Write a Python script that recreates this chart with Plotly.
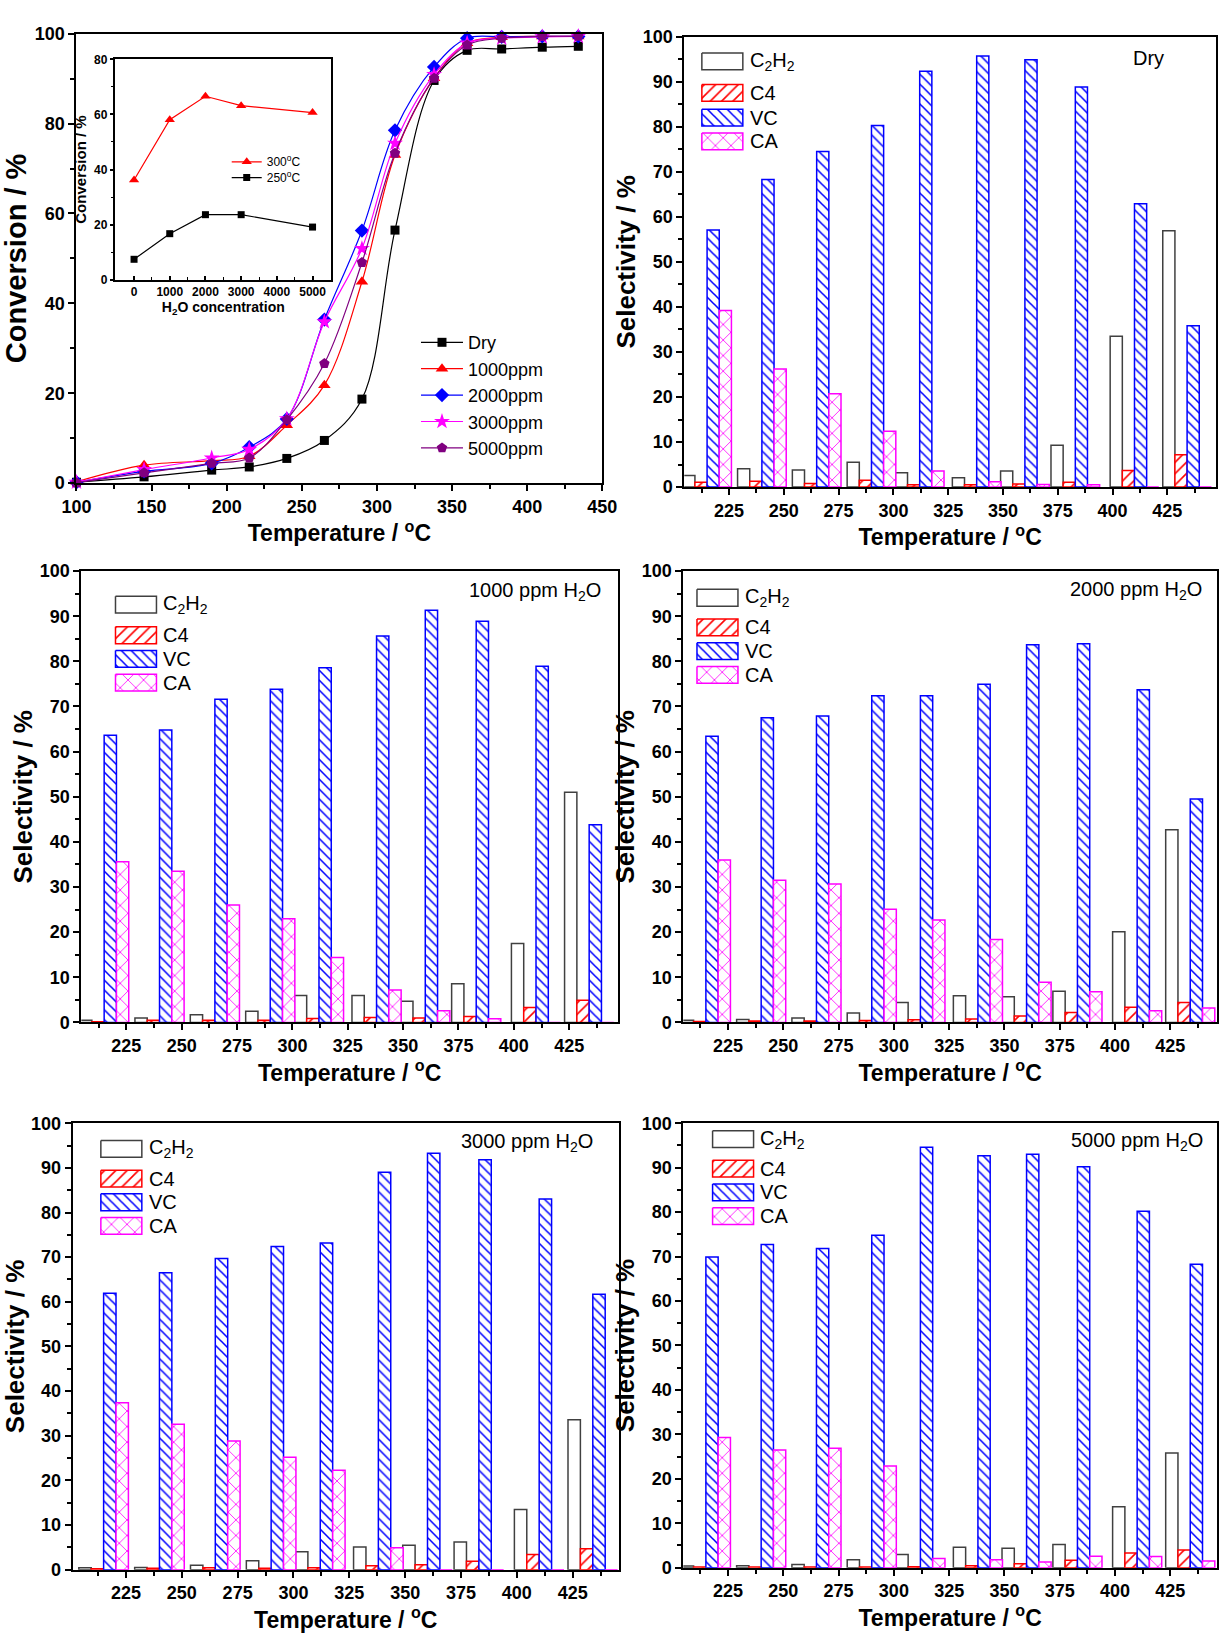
import plotly.graph_objects as go

W, H = 1232, 1636

# ---------------- data ----------------
conv_temps = [100, 145, 190, 215, 240, 265, 290, 312, 338, 360, 383, 410, 434]
conv_dry  = [0.2, 1.4, 2.9, 3.6, 5.5, 9.5, 18.7, 56.3, 89.6, 96.3, 96.6, 97.0, 97.2]
conv_1000 = [0.3, 4.0, 5.0, 6.0, 12.9, 21.8, 44.8, 73.0, 90.1, 97.9, 99.2, 99.4, 99.4]
conv_2000 = [0.2, 2.6, 4.4, 8.0, 14.3, 36.4, 56.2, 78.5, 92.6, 99.0, 99.3, 99.4, 99.4]
conv_3000 = [0.2, 3.0, 5.6, 7.5, 14.3, 35.9, 52.2, 75.6, 90.9, 97.9, 99.0, 99.3, 99.4]
conv_5000 = [0.1, 2.3, 4.4, 5.6, 14.1, 26.6, 49.1, 73.4, 90.1, 97.5, 99.0, 99.4, 99.4]

h2o_ppm   = [0, 1000, 2000, 3000, 5000]
conv_300C = [36.2, 58.1, 66.6, 63.2, 60.7]
conv_250C = [7.4, 16.7, 23.6, 23.6, 19.1]

sel_temps = [215, 240, 265, 290, 312, 338, 360, 383, 410, 434]
product_names = ["C<sub>2</sub>H<sub>2</sub>", "C4", "VC", "CA"]

dry_c2h2 = [2.6, 4.1, 3.8, 5.5, 3.2, 2.1, 3.6, 9.3, 33.5, 56.9]
dry_c4   = [1.1, 1.3, 0.8, 1.5, 0.5, 0.5, 0.7, 1.1, 3.7, 7.2]
dry_vc   = [57.1, 68.3, 74.5, 80.3, 92.3, 95.7, 94.9, 88.8, 62.9, 35.8]
dry_ca   = [39.2, 26.2, 20.7, 12.4, 3.6, 1.2, 0.6, 0.5, 0, 0]

w1000_c2h2 = [0.5, 1.0, 1.7, 2.5, 6.0, 6.0, 4.7, 8.6, 17.5, 51.0]
w1000_c4   = [0.15, 0.5, 0.5, 0.5, 0.9, 1.1, 1.0, 1.3, 3.3, 4.9]
w1000_vc   = [63.6, 64.8, 71.6, 73.8, 78.6, 85.6, 91.3, 88.9, 78.9, 43.8]
w1000_ca   = [35.6, 33.5, 26.0, 23.0, 14.4, 7.2, 2.6, 0.8, 0, 0]

w2000_c2h2 = [0.5, 0.65, 1.0, 2.1, 4.4, 5.9, 5.7, 6.9, 20.1, 42.7]
w2000_c4   = [0.2, 0.3, 0.3, 0.45, 0.6, 0.75, 1.45, 2.2, 3.4, 4.4]
w2000_vc   = [63.4, 67.5, 67.9, 72.4, 72.4, 74.9, 83.7, 83.9, 73.7, 49.5]
w2000_ca   = [36.0, 31.5, 30.7, 25.1, 22.7, 18.4, 8.9, 6.8, 2.6, 3.2]

w3000_c2h2 = [0.45, 0.5, 1.0, 2.0, 4.0, 5.1, 5.5, 6.2, 13.5, 33.6]
w3000_c4   = [0.2, 0.3, 0.45, 0.3, 0.45, 0.9, 1.1, 1.9, 3.4, 4.7]
w3000_vc   = [61.9, 66.5, 69.7, 72.4, 73.2, 89.0, 93.3, 91.8, 83.0, 61.7]
w3000_ca   = [37.4, 32.6, 28.8, 25.2, 22.3, 4.9, 0, 0, 0, 0]

w5000_c2h2 = [0.4, 0.45, 0.7, 1.8, 3.0, 4.6, 4.4, 5.2, 13.7, 25.8]
w5000_c4   = [0.15, 0.15, 0.15, 0.15, 0.2, 0.45, 0.9, 1.7, 3.3, 4.0]
w5000_vc   = [69.9, 72.7, 71.8, 74.8, 94.6, 92.7, 93.0, 90.2, 80.2, 68.3]
w5000_ca   = [29.3, 26.5, 26.9, 22.9, 2.1, 1.8, 1.3, 2.6, 2.5, 1.5]

# ---------------- styles ----------------
FONT = "Liberation Sans, Arial, Helvetica, sans-serif"
BOLD = dict(family=FONT, color="black", weight="bold")

styles = [
    dict(line="#404040", fg="#404040", shape=""),     # C2H2
    dict(line="#ff0000", fg="#ff0000", shape="/"),    # C4
    dict(line="#0000ff", fg="#0000ff", shape="\\"),   # VC
    dict(line="#ff00ff", fg="#ff00ff", shape="x"),    # CA
]
pat_size = {"": 8, "/": 8, "\\": 7, "x": 11}
pat_sol = {"": 0.2, "/": 0.2, "\\": 0.22, "x": 0.14}


def xd(a, b):
    return [a / W, b / W]


def yd(top, bottom):
    return [1 - bottom / H, 1 - top / H]


fig = go.Figure()
layout = dict(
    width=W, height=H, margin=dict(l=0, r=0, t=0, b=0),
    paper_bgcolor="white", plot_bgcolor="white", barmode="overlay",
    annotations=[], font=dict(family=FONT, color="black"),
)


def axis_common(size=18, lw=2):
    return dict(showline=True, linecolor="black", linewidth=lw, mirror=True,
                ticks="outside", ticklen=6, tickwidth=1.5, tickcolor="black",
                showgrid=False, zeroline=False,
                tickfont=dict(size=size, **BOLD))


# ---------------- panel 1: conversion ----------------
series = [
    ("Dry", conv_dry, "black", "square", 9),
    ("1000ppm", conv_1000, "#ff0000", "triangle-up", 11),
    ("2000ppm", conv_2000, "#0000ff", "diamond", 11),
    ("3000ppm", conv_3000, "#ff00ff", "star", 12),
    ("5000ppm", conv_5000, "#800080", "pentagon", 11),
]
for name, vals, col, sym, sz in series:
    fig.add_trace(go.Scatter(
        x=conv_temps, y=vals, name=name, mode="lines+markers",
        line=dict(color=col, width=1.2, shape="spline", smoothing=1.0),
        marker=dict(symbol=sym, size=sz, color=col),
        cliponaxis=False, xaxis="x", yaxis="y", legend="legend"))

layout["xaxis"] = dict(domain=xd(63, 602), range=[100, 450], anchor="y",
                       dtick=50, tick0=100,
                       minor=dict(ticks="outside", ticklen=4, tickwidth=1.5,
                                  tickcolor="black", dtick=25, tick0=100),
                       title=dict(text="Temperature / <sup>o</sup>C",
                                  font=dict(size=23, **BOLD), standoff=0),
                       **axis_common())
layout["yaxis"] = dict(domain=yd(24, 479), range=[0, 100], anchor="x",
                       dtick=20,
                       minor=dict(ticks="outside", ticklen=4, tickwidth=1.5,
                                  tickcolor="black", dtick=10),
                       title=dict(text="Conversion / %",
                                  font=dict(size=29, **BOLD), standoff=0),
                       **axis_common())
layout["legend"] = dict(x=411 / W, y=1 - 318 / H, xanchor="left", yanchor="top",
                        bgcolor="rgba(0,0,0,0)", itemwidth=42,
                        font=dict(family=FONT, size=18, color="black"),
                        tracegroupgap=0)

# inset
fig.add_trace(go.Scatter(
    x=h2o_ppm, y=conv_300C, name="300<sup>o</sup>C", mode="lines+markers",
    line=dict(color="#ff0000", width=1.2), marker=dict(symbol="triangle-up", size=9, color="#ff0000"),
    cliponaxis=False, xaxis="x7", yaxis="y7", legend="legend2"))
fig.add_trace(go.Scatter(
    x=h2o_ppm, y=conv_250C, name="250<sup>o</sup>C", mode="lines+markers",
    line=dict(color="black", width=1.2), marker=dict(symbol="square", size=7, color="black"),
    cliponaxis=False, xaxis="x7", yaxis="y7", legend="legend3"))

ins_x = axis_common(size=12, lw=1.5)
ins_x.update(ticks="inside", ticklen=4)
layout["xaxis7"] = dict(domain=xd(103, 324), range=[-520, 5520], anchor="y7",
                        dtick=1000, tick0=0,
                        minor=dict(ticks="inside", ticklen=3, tickwidth=1, tickcolor="black",
                                   dtick=500, tick0=0),
                        title=dict(text="H<sub>2</sub>O concentration",
                                   font=dict(size=14, **BOLD), standoff=0),
                        **ins_x)
ins_y = axis_common(size=12, lw=1.5)
ins_y.update(ticklen=4)
layout["yaxis7"] = dict(domain=yd(50, 273), range=[0, 80], anchor="x7", dtick=20,
                        minor=dict(ticks="outside", ticklen=3, tickwidth=1, tickcolor="black",
                                   dtick=10),
                        title=dict(text="Conversion / %", font=dict(size=15, **BOLD), standoff=4),
                        **ins_y)
for lname, ytop in (("legend2", 139), ("legend3", 155)):
    layout[lname] = dict(x=217 / W, y=1 - ytop / H, xanchor="left", yanchor="top",
                         bgcolor="rgba(0,0,0,0)", itemwidth=30,
                         font=dict(family=FONT, size=12, color="black"),
                         tracegroupgap=0)

# ---------------- bar panels ----------------
panels = [
    dict(n=2, ov=8, label="Dry", data=[dry_c2h2, dry_c4, dry_vc, dry_ca],
         box=(686, 1231, 27, 483), rng=[204.6, 447.2],
         legx=704, legrows=[52, 84, 109, 133], note=(1180, 49)),
    dict(n=3, ov=9, label="1000 ppm H<sub>2</sub>O", data=[w1000_c2h2, w1000_c4, w1000_vc, w1000_ca],
         box=(68, 618, 568, 1025), rng=[204.7, 447.0],
         legx=103, legrows=[602, 633, 657, 681], note=(603, 589)),
    dict(n=4, ov=10, label="2000 ppm H<sub>2</sub>O", data=[w2000_c2h2, w2000_c4, w2000_vc, w2000_ca],
         box=(685, 1232, 568, 1025), rng=[204.8, 446.1],
         legx=699, legrows=[595, 625, 649, 673], note=(1219, 588)),
    dict(n=5, ov=11, label="3000 ppm H<sub>2</sub>O", data=[w3000_c2h2, w3000_c4, w3000_vc, w3000_ca],
         box=(59, 619, 1127, 1579), rng=[201.1, 445.7],
         legx=88, legrows=[1153, 1183, 1207, 1231], note=(594, 1147)),
    dict(n=6, ov=12, label="5000 ppm H<sub>2</sub>O", data=[w5000_c2h2, w5000_c4, w5000_vc, w5000_ca],
         box=(685, 1232, 1127, 1577), rng=[204.8, 446.1],
         legx=715, legrows=[1143, 1173, 1197, 1221], note=(1220, 1146)),
]

BW = 5.55  # bar width in degC
for p in panels:
    n, ov = p["n"], p["ov"]
    x0, x1, y0, y1 = p["box"]
    for k, (vals, st) in enumerate(zip(p["data"], styles)):
        fig.add_trace(go.Bar(
            x=sel_temps, y=vals, width=BW, offset=(k - 2) * BW,
            marker=dict(color="white", line=dict(color=st["line"], width=1.5),
                        pattern=dict(shape=st["shape"], fgcolor=st["fg"], bgcolor="white",
                                     fgopacity=1, size=pat_size[st["shape"]],
                                     solidity=pat_sol[st["shape"]])),
            name=product_names[k], showlegend=False,
            xaxis=f"x{n}", yaxis=f"y{n}"))
    layout[f"xaxis{n}"] = dict(domain=xd(x0, x1), range=p["rng"], anchor=f"y{n}",
                               tickvals=[225, 250, 275, 300, 325, 350, 375, 400, 425],
                               minor=dict(ticks="outside", ticklen=4, tickwidth=1.5,
                                          tickcolor="black", dtick=12.5, tick0=212.5),
                               title=dict(text="Temperature / <sup>o</sup>C",
                                          font=dict(size=23, **BOLD), standoff=0),
                               **axis_common())
    layout[f"yaxis{n}"] = dict(domain=yd(y0, y1), range=[0, 100], anchor=f"x{n}", dtick=10,
                               minor=dict(ticks="outside", ticklen=4, tickwidth=1.5,
                                          tickcolor="black", dtick=5),
                               title=dict(text="Selectivity / %",
                                          font=dict(size=26, **BOLD), standoff=0),
                               **axis_common())
    # overlay axes in pixel units for the legend swatches
    layout[f"xaxis{ov}"] = dict(overlaying=f"x{n}", range=[x0, x1], visible=False,
                                anchor=f"y{ov}")
    layout[f"yaxis{ov}"] = dict(overlaying=f"y{n}", range=[y1, y0], visible=False,
                                anchor=f"x{ov}")
    bx = p["legx"]
    for k, (r, st) in enumerate(zip(p["legrows"], styles)):
        fig.add_trace(go.Scatter(
            x=[bx, bx + 42, bx + 42, bx, bx], y=[r - 8.5, r - 8.5, r + 8.5, r + 8.5, r - 8.5],
            mode="lines", fill="toself", fillcolor="white",
            fillpattern=dict(shape=st["shape"], fgcolor=st["fg"], bgcolor="white", fgopacity=1,
                             size=pat_size[st["shape"]], solidity=pat_sol[st["shape"]]),
            line=dict(color=st["line"], width=1.5), showlegend=False, hoverinfo="skip",
            xaxis=f"x{ov}", yaxis=f"y{ov}"))
        layout["annotations"].append(dict(
            x=bx + 47, y=r, xref=f"x{ov}", yref=f"y{ov}", text=product_names[k],
            showarrow=False, xanchor="left", yanchor="middle",
            font=dict(family=FONT, size=20, color="black")))
    nx, ny = p["note"]
    layout["annotations"].append(dict(
        x=nx / W, y=1 - ny / H, xref="paper", yref="paper", text=p["label"],
        showarrow=False, xanchor="right", yanchor="middle",
        font=dict(family=FONT, size=20, color="black")))

fig.update_layout(**layout)
fig.write_html("out.html", config={"displayModeBar": False},
               post_script="document.body.style.margin='0px';document.body.style.padding='0px';")
